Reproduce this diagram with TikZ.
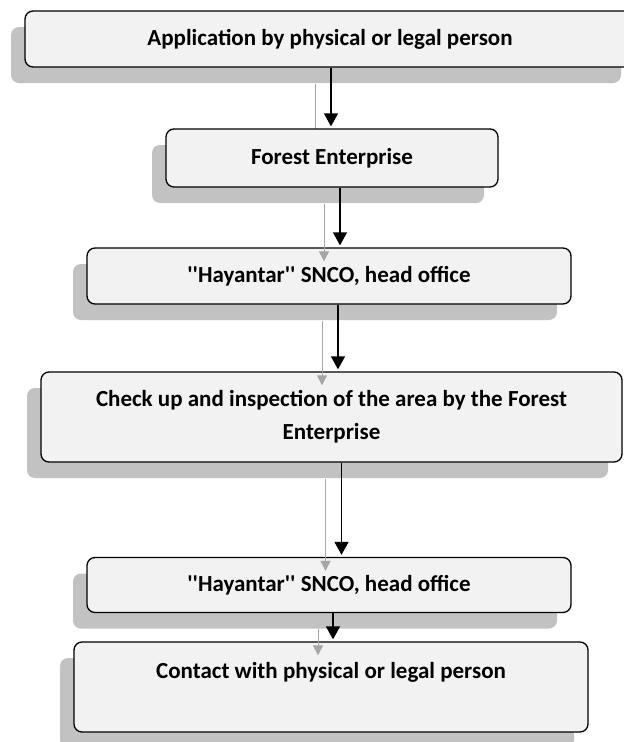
\documentclass[tikz,border=0pt]{standalone}
\usepackage{fontspec}
\setmainfont{Carlito}
\usepackage{xcolor}
\usetikzlibrary{arrows.meta}
\usetikzlibrary{shadows}
\definecolor{boxfill}{HTML}{F2F2F2}
\definecolor{shadowgray}{HTML}{C2C2C2}
\definecolor{arrowgray}{HTML}{A6A6A6}
\newcommand{\sq}{\textquotesingle\textquotesingle}
\tikzset{
    stepbox/.style={draw=black, line width=1.3pt, rounded corners=8pt, fill=boxfill,
        font=\bfseries\fontsize{23}{33}\selectfont, align=center, inner sep=0pt,
        drop shadow={shadow xshift=-14pt, shadow yshift=-16pt, fill=shadowgray, opacity=1}},
    flow/.style={-{Triangle[length=13pt,width=14pt]}, line width=1.3pt, shorten >=2pt},
    flowshadow/.style={-{Triangle[length=10pt,width=10pt]}, draw=arrowgray, fill=arrowgray, line width=0.9pt}
}

\begin{document}
\begin{tikzpicture}[x=1pt, y=-1pt]
    \useasboundingbox (0,0) rectangle (624,742);

    \node[stepbox, minimum width=610pt, minimum height=56pt] (app) at (330,39) {Application by physical or legal person};
    \draw[flowshadow] ([xshift=-15pt, yshift=-16pt]app.south) -- ([xshift=-15pt]app.south |- 0,143);

    \node[stepbox, minimum width=332pt, minimum height=58pt] (forest) at (332,158) {Forest Enterprise};
    \node[stepbox, minimum width=484pt, minimum height=56pt] (hayA) at (329,276) {\sq Hayantar\sq{} SNCO, head office};
    \node[stepbox, minimum width=581pt, minimum height=90pt] (check) at (331.5,417) {Check up and inspection of the area by the Forest\\Enterprise};
    \node[stepbox, minimum width=484pt, minimum height=55pt] (hayB) at (329,585) {\sq Hayantar\sq{} SNCO, head office};
    \node[stepbox, minimum width=514pt, minimum height=90pt] (contact) at (331,687) {Contact with physical or legal person\\\mbox{}};

    % shadows of the connectors
    \draw[flowshadow] ([xshift=-8pt, yshift=-16pt]forest.south) -- ([xshift=-8pt, yshift=-14pt]forest.south |- hayA.north);
    \draw[flowshadow] ([xshift=-7pt, yshift=-16pt]hayA.south) -- ([xshift=-7pt, yshift=-14pt]hayA.south |- check.north);
    \draw[flowshadow] ([xshift=-6pt, yshift=-16pt]check.south) -- ([xshift=-6pt, yshift=-14pt]check.south |- hayB.north);
    \draw[flowshadow] ([xshift=-11pt, yshift=-16pt]hayB.south) -- ([xshift=-11pt, yshift=-14pt]hayB.south |- contact.north);

    % connectors
    \draw[flow] ([xshift=1pt]app.south) -- ([xshift=1pt]app.south |- forest.north);
    \draw[flow] ([xshift=8pt]forest.south) -- ([xshift=8pt]forest.south |- hayA.north);
    \draw[flow] ([xshift=9pt]hayA.south) -- ([xshift=9pt]hayA.south |- check.north);
    \draw[flow] ([xshift=10pt]check.south) -- ([xshift=10pt]check.south |- hayB.north);
    \draw[flow] ([xshift=4pt]hayB.south) -- ([xshift=4pt]hayB.south |- contact.north);
\end{tikzpicture}
\end{document}
